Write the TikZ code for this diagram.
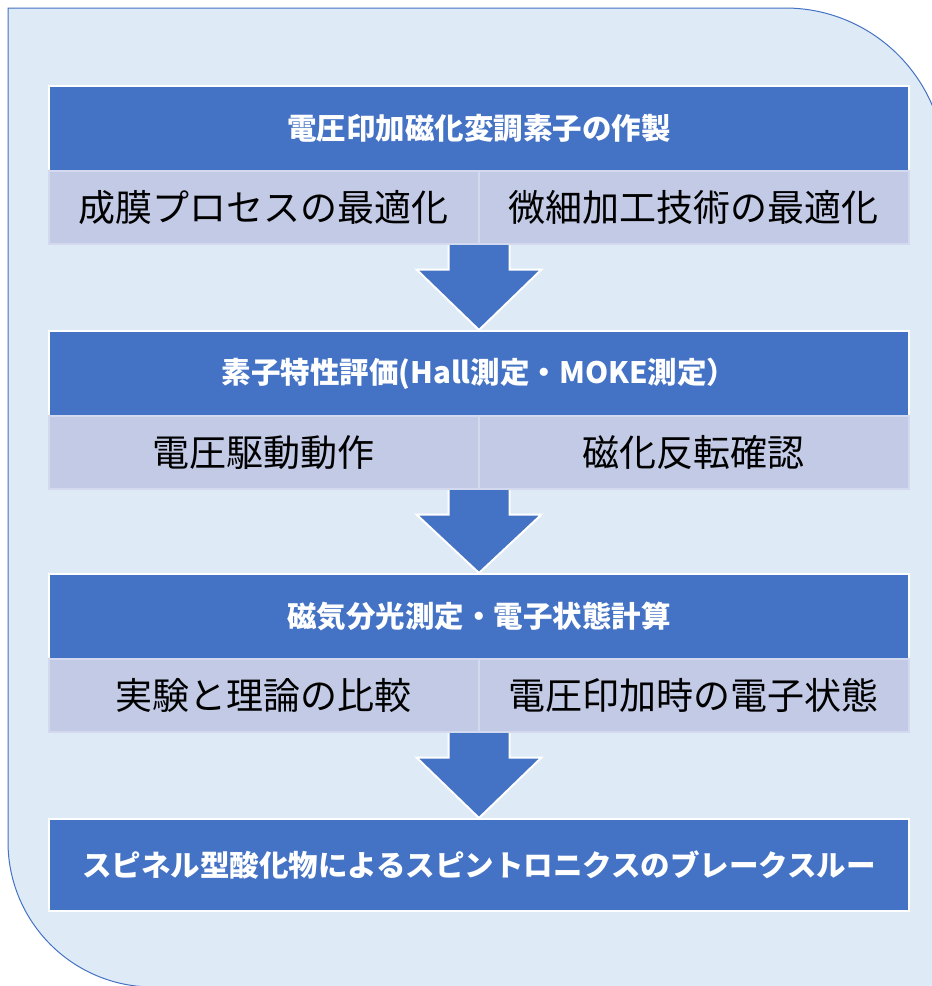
\documentclass[tikz,border=0pt]{standalone}
\usepackage{fontspec}
\setmainfont{Noto Sans CJK JP}
\usetikzlibrary{calc}
\definecolor{hdr}{HTML}{4472C4}
\definecolor{subc}{HTML}{C2CAE5}
\definecolor{bgc}{HTML}{DEEAF6}
\definecolor{divc}{HTML}{D3D9EE}
\pgfdeclarelayer{back}
\pgfdeclarelayer{arrowlayer}
\pgfsetlayers{back,arrowlayer,main}
\begin{document}
\begin{tikzpicture}[x=1pt,y=-1pt,
  hdrbox/.style={draw=white, line width=2pt, fill=hdr, text=white, inner sep=0pt,
    minimum width=860pt, minimum height=85pt, anchor=north west,
    font=\fontsize{29.5}{34}\selectfont\bfseries},
  subbox/.style={draw=divc, line width=1.5pt, fill=subc, text=black, inner sep=0pt,
    minimum width=430pt, minimum height=73pt, anchor=north west,
    font=\fontsize{37}{42}\selectfont},
  endbox/.style={hdrbox, minimum height=92pt},
  downarrow/.style={fill=hdr, draw=white, line width=2pt, line join=miter}
]
\useasboundingbox (0,0) rectangle (932,986);
\begin{pgfonlayer}{back}
\path[fill=bgc, draw=hdr, line width=1pt]
  (8,8) -- (785,8) arc[start angle=-90, end angle=0, radius=160]
  -- (945,1000) -- (153,1000) -- (153,987) arc[start angle=90, end angle=180, radius=145]
  -- cycle;
\end{pgfonlayer}

% box 1
\node[hdrbox] (h1) at (48,85) {電圧印加磁化変調素子の作製};
\node[subbox] (s1a) at (48,170) {成膜プロセスの最適化};
\node[subbox] (s1b) at (478,170) {微細加工技術の最適化};
% box 2
\node[hdrbox] (h2) at (48,330) {素子特性評価(Hall測定・MOKE測定）};
\node[subbox] (s2a) at (48,415) {電圧駆動動作};
\node[subbox] (s2b) at (478,415) {磁化反転確認};
% box 3
\node[hdrbox] (h3) at (48,573) {磁気分光測定・電子状態計算};
\node[subbox] (s3a) at (48,658) {実験と理論の比較};
\node[subbox] (s3b) at (478,658) {電圧印加時の電子状態};
% box 4
\node[endbox] (h4) at (48,818) {スピネル型酸化物によるスピントロニクスのブレークスルー};

\begin{pgfonlayer}{arrowlayer}
\foreach \a/\b in {s1a/h2, s2a/h3, s3a/h4}{
  \path[downarrow] let \p1=(\a.south east), \p2=(\b.north) in
    (\x2-30.5pt,\y1+3pt) -- (\x2+30.5pt,\y1+3pt) -- (\x2+30.5pt,\y1-25pt)
    -- (\x2+62.5pt,\y1-25pt) -- (\x2,\y2) -- (\x2-62.5pt,\y1-25pt)
    -- (\x2-30.5pt,\y1-25pt) -- cycle;
}
\end{pgfonlayer}
\end{tikzpicture}
\end{document}
